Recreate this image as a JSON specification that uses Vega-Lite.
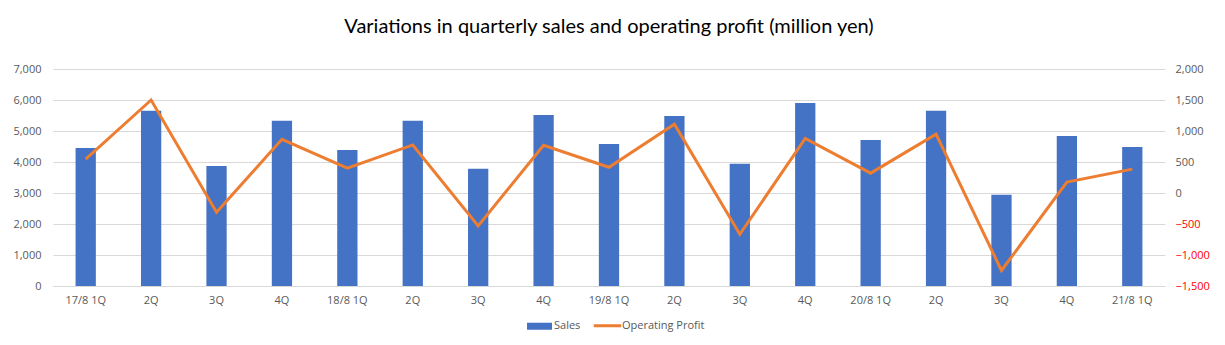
{
  "$schema": "https://vega.github.io/schema/vega-lite/v6.json",
  "width": 1112,
  "height": 217,
  "autosize": {"type": "none"},
  "padding": {"left": 53, "top": 69, "right": 60, "bottom": 59},
  "background": "white",
  "title": {
    "text": "Variations in quarterly sales and operating profit (million yen)",
    "font": "Lato",
    "fontSize": 20,
    "fontWeight": "normal",
    "color": "#000000",
    "anchor": "middle",
    "frame": "group",
    "baseline": "alphabetic",
    "offset": 10
  },
  "config": {
    "view": {"stroke": null},
    "axis": {
      "labelFont": "Open Sans",
      "labelFontSize": 11,
      "labelColor": "#595959",
      "gridColor": "#D9D9D9",
      "gridWidth": 1,
      "ticks": false,
      "domain": false,
      "title": null
    },
    "legend": {"labelFont": "Open Sans", "labelFontSize": 11, "labelColor": "#595959"}
  },
  "data": {
    "values": [
      {"period": "17/8 1Q", "sales": 4450, "profit": 545},
      {"period": "17/8 2Q", "sales": 5650, "profit": 1500},
      {"period": "17/8 3Q", "sales": 3870, "profit": -310},
      {"period": "17/8 4Q", "sales": 5330, "profit": 865},
      {"period": "18/8 1Q", "sales": 4390, "profit": 400},
      {"period": "18/8 2Q", "sales": 5330, "profit": 775},
      {"period": "18/8 3Q", "sales": 3780, "profit": -530},
      {"period": "18/8 4Q", "sales": 5520, "profit": 770},
      {"period": "19/8 1Q", "sales": 4580, "profit": 415},
      {"period": "19/8 2Q", "sales": 5480, "profit": 1110},
      {"period": "19/8 3Q", "sales": 3940, "profit": -665},
      {"period": "19/8 4Q", "sales": 5900, "profit": 880},
      {"period": "20/8 1Q", "sales": 4710, "profit": 320},
      {"period": "20/8 2Q", "sales": 5650, "profit": 950},
      {"period": "20/8 3Q", "sales": 2940, "profit": -1250},
      {"period": "20/8 4Q", "sales": 4840, "profit": 175},
      {"period": "21/8 1Q", "sales": 4480, "profit": 385}
    ]
  },
  "encoding": {
    "x": {
      "field": "period",
      "type": "ordinal",
      "sort": null,
      "scale": {"paddingInner": 0.69, "paddingOuter": 0.345},
      "axis": {
        "labelAngle": 0,
        "grid": false,
        "domain": true,
        "domainColor": "#D9D9D9",
        "labelPadding": 8,
        "labelExpr": "indexof(datum.value, '1Q') >= 0 ? datum.value : split(datum.value, ' ')[1]"
      }
    }
  },
  "layer": [
    {
      "mark": {"type": "bar"},
      "encoding": {
        "y": {
          "field": "sales",
          "type": "quantitative",
          "scale": {"domain": [0, 7000]},
          "axis": {"orient": "left", "values": [0, 1000, 2000, 3000, 4000, 5000, 6000, 7000], "format": ",.0f", "labelPadding": 12, "grid": true}
        },
        "color": {
          "datum": "Sales",
          "scale": {"domain": ["Sales", "Operating Profit"], "range": ["#4472C4", "#ED7D31"]},
          "legend": {
            "orient": "none",
            "legendX": 481,
            "legendY": 251,
            "direction": "horizontal",
            "title": null,
            "symbolSize": 625,
            "columnPadding": 6,
            "labelOffset": 9,
            "encode": {
              "symbols": {
                "update": {
                  "shape": {"signal": "datum.value === 'Sales' ? 'M-1,-0.28H1V0.28H-1Z' : 'M-1.1,0H1.1'"},
                  "fill": {"signal": "datum.value === 'Sales' ? '#4472C4' : 'transparent'"},
                  "stroke": {"signal": "datum.value === 'Sales' ? '#4472C4' : '#ED7D31'"},
                  "strokeWidth": {"signal": "datum.value === 'Sales' ? 0 : 3"}
                }
              }
            }
          }
        }
      }
    },
    {
      "mark": {"type": "line", "strokeWidth": 3, "color": "#ED7D31"},
      "encoding": {
        "y": {
          "field": "profit",
          "type": "quantitative",
          "scale": {"domain": [-1500, 2000]},
          "axis": {
            "orient": "right",
            "values": [-1500, -1000, -500, 0, 500, 1000, 1500, 2000],
            "format": ",.0f",
            "grid": false,
            "labelPadding": 10,
            "labelColor": {"condition": {"test": "datum.value < 0", "value": "#FF0000"}, "value": "#595959"}
          }
        },
        "color": {"datum": "Operating Profit"}
      }
    }
  ],
  "resolve": {"scale": {"y": "independent"}}
}
